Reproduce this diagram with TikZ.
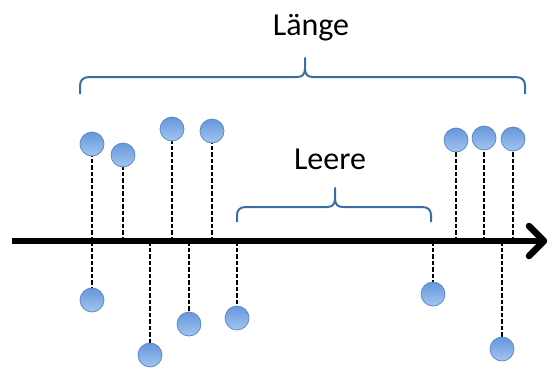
\documentclass[tikz,border=0pt]{standalone}
\usepackage{fontspec}
\setmainfont{Carlito}
\definecolor{bracecol}{HTML}{3B6CA3}
\definecolor{balltop}{HTML}{6597DB}
\definecolor{ballbot}{HTML}{A3C5F0}
\definecolor{balledge}{HTML}{5685C4}
\begin{document}
\begin{tikzpicture}[x=1pt,y=-1pt,
  ball/.style={circle, minimum size=24pt, inner sep=0pt, draw=balledge,
    line width=0.7pt, top color=balltop, bottom color=ballbot},
  stem/.style={line width=2.2pt, dash pattern=on 4.5pt off 2pt},
  axisline/.style={line width=6.5pt},
  bracket/.style={draw=bracecol, line width=2pt, line join=round},
  label/.style={font=\fontsize{32}{38}\selectfont, anchor=base, inner sep=0pt}]
  \useasboundingbox (0,0) rectangle (548,367);

  % number line with open arrow head
  \coordinate (axL) at (12,241);
  \coordinate (axR) at (543,241);
  \draw[axisline] (axL) -- (axR);
  \draw[axisline, line cap=round, line join=round] (529,226) -- (544,241) -- (529,256);

  % points above the line
  \foreach \n/\x/\y in {a1/92/144, a2/123/155, a3/172/129, a4/212/131,
                        a5/456/140, a6/484/138, a7/513/139} {
    \coordinate (\n-ax) at (\x,241);
    \draw[stem] (\n-ax) -- (\x,\y);
    \node[ball] (\n) at (\x,\y) {};
  }
  % points below the line
  \foreach \n/\x/\y in {b1/92/300, b2/150/355, b3/189/324, b4/237/318,
                        b5/433/294, b6/502/349} {
    \coordinate (\n-ax) at (\x,241);
    \draw[stem] (\n-ax) -- (\x,\y);
    \node[ball] (\n) at (\x,\y) {};
  }

  % brace over the whole range
  \draw[bracket] (80,94) -- (80,86) .. controls (80,80) and (83,77) .. (90,77)
    -- (297,77) .. controls (303,77) and (305,74) .. (305,68) -- (305,58)
    -- (305,68) .. controls (305,74) and (307,77) .. (313,77)
    -- (515,77) .. controls (522,77) and (525,80) .. (525,86) -- (525,94);
  \node[label] (laenge) at (311,35) {Länge};

  % brace over the gap
  \draw[bracket] (237,222) -- (237,215) .. controls (237,210) and (240,207) .. (246,207)
    -- (327,207) .. controls (333,207) and (335,204) .. (335,198) -- (335,188)
    -- (335,198) .. controls (335,204) and (337,207) .. (343,207)
    -- (422,207) .. controls (428,207) and (431,210) .. (431,215) -- (431,222);
  \node[label] (leere) at (330,169) {Leere};
\end{tikzpicture}
\end{document}
